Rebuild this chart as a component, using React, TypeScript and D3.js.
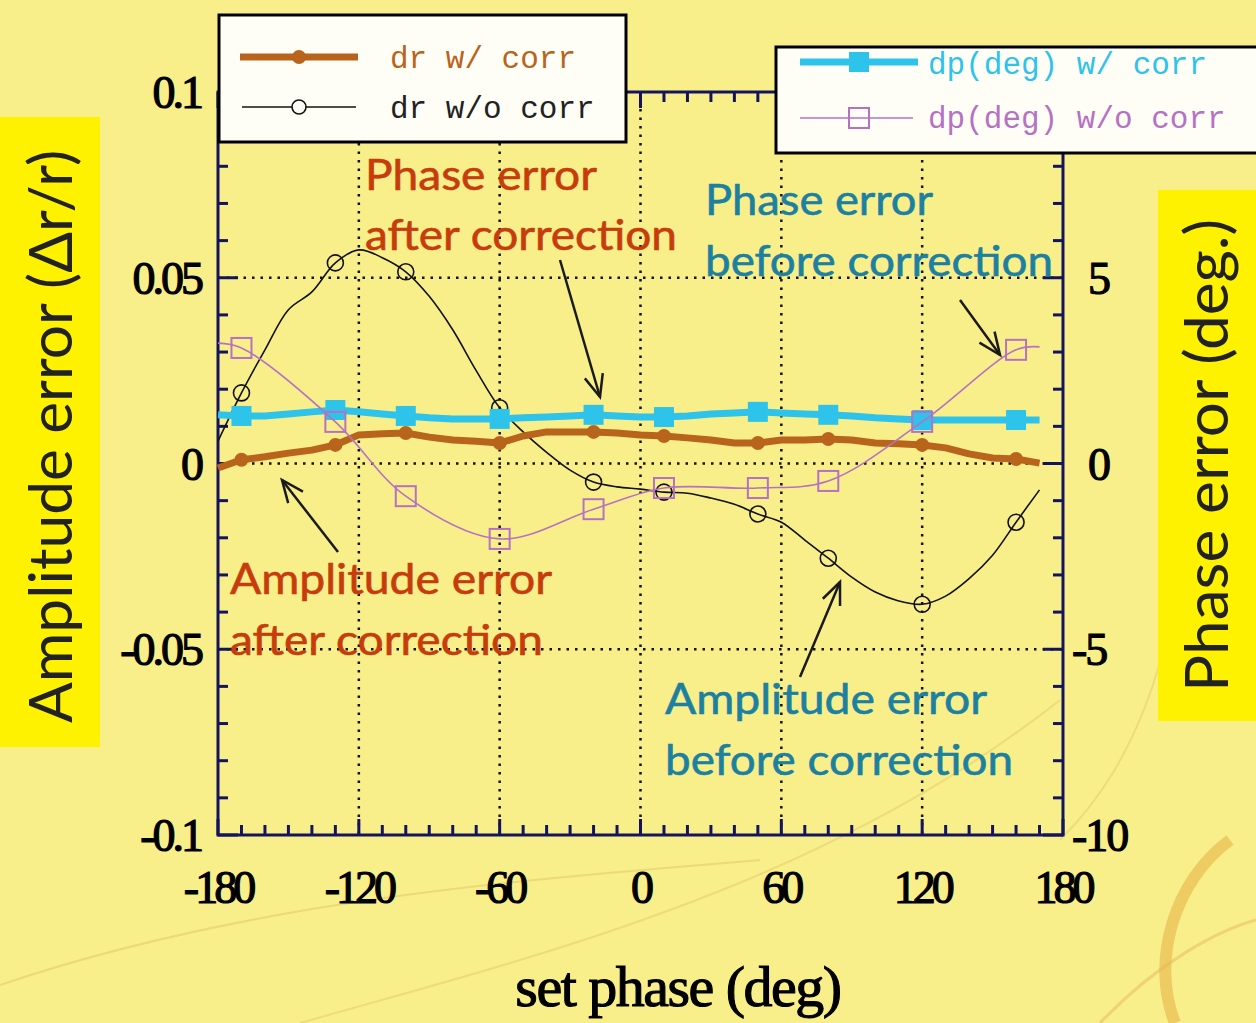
import React, { useEffect, useRef } from 'react';
import * as d3 from 'd3';

// set phase (deg), sampled every 10 deg
const phases = [-180, -170, -160, -150, -140, -130, -120, -110, -100, -90, -80, -70, -60, -50, -40, -30, -20, -10,
  0, 10, 20, 30, 40, 50, 60, 70, 80, 90, 100, 110, 120, 130, 140, 150, 160, 170];

// phases where markers are drawn
const markerPhases = [-170, -130, -100, -60, -20, 10, 50, 80, 120, 160];

// dr w/ corr (amplitude, left axis)
const drWithCorr = [-0.0012, 0.001, 0.0018, 0.0028, 0.0036, 0.005, 0.0077, 0.008, 0.0082, 0.0071, 0.0063, 0.006,
  0.0055, 0.0074, 0.0085, 0.0085, 0.0085, 0.0082, 0.0077, 0.0074, 0.0069, 0.0063, 0.0055, 0.0055, 0.0063, 0.0063,
  0.0066, 0.0063, 0.0055, 0.0053, 0.005, 0.0042, 0.0026, 0.0015, 0.0012, 0.0001];

// dr w/o corr (amplitude, left axis)
const drWithoutCorr = [0.006, 0.019, 0.0306, 0.0414, 0.0462, 0.054, 0.0575, 0.0554, 0.0516, 0.045, 0.036, 0.025,
  0.015, 0.0085, 0.003, -0.0018, -0.005, -0.0063, -0.0069, -0.0077, -0.008, -0.0093, -0.011, -0.0136, -0.0158,
  -0.0206, -0.0255, -0.0306, -0.0346, -0.037, -0.0379, -0.0357, -0.031, -0.0247, -0.0158, -0.0071];

// dp(deg) w/ corr (phase, right axis)
const dpWithCorr = [1.31, 1.28, 1.28, 1.33, 1.39, 1.44, 1.39, 1.33, 1.28, 1.23, 1.2, 1.2, 1.2, 1.23, 1.25, 1.28,
  1.31, 1.28, 1.25, 1.25, 1.28, 1.33, 1.36, 1.39, 1.36, 1.33, 1.31, 1.28, 1.23, 1.2, 1.17, 1.17, 1.17, 1.17, 1.17, 1.17];

// dp(deg) w/o corr (phase, right axis), only known at these phases
const dpWithoutPhases = [-180, -170, -130, -100, -60, -20, 10, 50, 80, 120, 160, 170];
const dpWithoutCorr = [3.24, 3.11, 1.12, -0.88, -2.03, -1.23, -0.66, -0.66, -0.47, 1.12, 3.06, 3.14];

const xTicks = [-180, -120, -60, 0, 60, 120, 180];
const leftTicks = [-0.1, -0.05, 0, 0.05, 0.1];
const rightTicks = [-10, -5, 0, 5];

const BG = '#f9ef8a';
const BROWN = '#b8641c';
const CYAN = '#2ec3ea';
const PURPLE = '#b572c4';
const FRAME = '#14145e';
const RED = '#c63c0c';
const TEAL = '#1c80a0';

function App() {
  const ref = useRef<SVGSVGElement>(null);

  useEffect(() => {
    const svg = d3.select(ref.current);
    svg.selectAll('*').remove();

    const x = d3.scaleLinear().domain([-180, 180]).range([218, 1063]);
    const yL = d3.scaleLinear().domain([-0.1, 0.1]).range([835, 92]);
    const yR = d3.scaleLinear().domain([-10, 10]).range([835, 92]);

    // background
    svg.append('rect').attr('width', 1256).attr('height', 1023).attr('fill', BG);

    // decorative swirls
    const deco = svg.append('g').attr('fill', 'none');
    deco.append('path').attr('d', 'M1175,1023 C1150,960 1175,880 1230,840')
      .attr('stroke', '#e6a83c').attr('stroke-width', 12).attr('opacity', 0.5);
    deco.append('path').attr('d', 'M0,985 C250,900 520,880 760,860')
      .attr('stroke', '#e2c96a').attr('stroke-width', 2).attr('opacity', 0.6);
    deco.append('path').attr('d', 'M300,1023 C520,960 820,890 1060,700')
      .attr('stroke', '#e2c96a').attr('stroke-width', 2).attr('opacity', 0.5);
    deco.append('path').attr('d', 'M1060,840 C1140,760 1180,650 1200,420')
      .attr('stroke', '#e2c96a').attr('stroke-width', 2).attr('opacity', 0.5);
    deco.append('path').attr('d', 'M1100,1023 C1160,960 1220,930 1256,920')
      .attr('stroke', '#e6b860').attr('stroke-width', 3).attr('opacity', 0.5);

    // axis title boxes
    svg.append('rect').attr('x', 0).attr('y', 117).attr('width', 100).attr('height', 630).attr('fill', '#fff200');
    svg.append('rect').attr('x', 1158).attr('y', 190).attr('width', 98).attr('height', 531).attr('fill', '#fff200');

    svg.append('text')
      .attr('transform', 'translate(72,723) rotate(-90)')
      .attr('font-family', 'Lato, sans-serif').attr('font-size', 60).attr('fill', '#222')
      .attr('textLength', 573).attr('lengthAdjust', 'spacingAndGlyphs')
      .text('Amplitude error (\u0394r/r)');
    svg.append('text')
      .attr('transform', 'translate(1228,692) rotate(-90)')
      .attr('font-family', 'Lato, sans-serif').attr('font-size', 60).attr('fill', '#222')
      .attr('textLength', 473).attr('lengthAdjust', 'spacingAndGlyphs')
      .text('Phase error (deg.)');

    // grid
    const grid = svg.append('g').attr('stroke', '#111').attr('stroke-width', 2.5).attr('stroke-dasharray', '2.5,6');
    xTicks.filter(d => d > -180 && d < 180).forEach(d => {
      grid.append('line').attr('x1', x(d)).attr('x2', x(d)).attr('y1', 92).attr('y2', 835);
    });
    [-0.05, 0, 0.05].forEach(d => {
      grid.append('line').attr('x1', 218).attr('x2', 1063).attr('y1', yL(d)).attr('y2', yL(d));
    });

    // ticks (inward) on all four sides
    const ticks = svg.append('g').attr('stroke', FRAME).attr('stroke-width', 3);
    d3.range(-100, 101, 10).forEach(i => {
      const v = i / 1000;
      const major = i % 50 === 0;
      const len = major ? 20 : 10;
      ticks.append('line').attr('x1', 218).attr('x2', 218 + len).attr('y1', yL(v)).attr('y2', yL(v));
      ticks.append('line').attr('x1', 1063).attr('x2', 1063 - len).attr('y1', yL(v)).attr('y2', yL(v));
    });
    d3.range(-180, 181, 10).forEach(d => {
      const major = d % 60 === 0;
      const len = major ? 16 : 10;
      ticks.append('line').attr('x1', x(d)).attr('x2', x(d)).attr('y1', 835).attr('y2', 835 - len);
      ticks.append('line').attr('x1', x(d)).attr('x2', x(d)).attr('y1', 92).attr('y2', 92 + len);
    });

    // frame
    svg.append('rect').attr('x', 218).attr('y', 92).attr('width', 845).attr('height', 743)
      .attr('fill', 'none').attr('stroke', FRAME).attr('stroke-width', 3);

    // tick labels
    const tickFont = { family: '"Liberation Serif", "Times New Roman", serif', size: 46 };
    svg.append('g').selectAll('text').data(leftTicks).join('text')
      .attr('x', 201).attr('y', d => yL(d) + 16)
      .attr('text-anchor', 'end')
      .attr('font-family', tickFont.family).attr('font-size', tickFont.size)
      .attr('letter-spacing', -3).attr('stroke', '#000').attr('stroke-width', 1.2)
      .text(d => String(d));
    svg.append('g').selectAll('text').data(rightTicks).join('text')
      .attr('x', d => d < 0 ? 1072 : 1088).attr('y', d => yR(d) + 16)
      .attr('font-family', tickFont.family).attr('font-size', tickFont.size)
      .attr('letter-spacing', -2).attr('stroke', '#000').attr('stroke-width', 1.2)
      .text(d => String(d));
    svg.append('g').selectAll('text').data(xTicks).join('text')
      .attr('x', d => x(d)).attr('y', 903)
      .attr('text-anchor', 'middle')
      .attr('font-family', tickFont.family).attr('font-size', tickFont.size)
      .attr('letter-spacing', -4).attr('stroke', '#000').attr('stroke-width', 1.2)
      .text(d => String(d));

    svg.append('text').attr('x', 678).attr('y', 1006).attr('text-anchor', 'middle')
      .attr('font-family', tickFont.family).attr('font-size', 58)
      .attr('letter-spacing', -1.5).attr('stroke', '#000').attr('stroke-width', 1.1)
      .text('set phase (deg)');

    // series
    const lineL = d3.line<number>().x((_, i) => x(phases[i])).y(d => yL(d));
    const lineR = d3.line<number>().x((_, i) => x(phases[i])).y(d => yR(d));
    const smoothL = d3.line<number>().curve(d3.curveCatmullRom).x((_, i) => x(phases[i])).y(d => yL(d));
    const purpleLine = d3.line<number>().curve(d3.curveCatmullRom)
      .x((_, i) => x(dpWithoutPhases[i])).y(d => yR(d));

    const idx = (p: number) => phases.indexOf(p);

    // dr w/o corr
    svg.append('path').attr('d', smoothL(drWithoutCorr)).attr('fill', 'none')
      .attr('stroke', '#111').attr('stroke-width', 1.6);
    svg.append('g').selectAll('circle').data(markerPhases).join('circle')
      .attr('cx', d => x(d)).attr('cy', d => yL(drWithoutCorr[idx(d)])).attr('r', 8)
      .attr('fill', 'none').attr('stroke', '#111').attr('stroke-width', 1.6);

    // dr w/ corr
    svg.append('path').attr('d', lineL(drWithCorr)).attr('fill', 'none')
      .attr('stroke', BROWN).attr('stroke-width', 7).attr('stroke-linejoin', 'round');
    svg.append('g').selectAll('circle').data(markerPhases).join('circle')
      .attr('cx', d => x(d)).attr('cy', d => yL(drWithCorr[idx(d)])).attr('r', 7)
      .attr('fill', BROWN);

    // dp w/ corr
    svg.append('path').attr('d', lineR(dpWithCorr)).attr('fill', 'none')
      .attr('stroke', CYAN).attr('stroke-width', 7).attr('stroke-linejoin', 'round');
    svg.append('g').selectAll('rect').data(markerPhases).join('rect')
      .attr('x', d => x(d) - 10).attr('y', d => yR(dpWithCorr[idx(d)]) - 10)
      .attr('width', 20).attr('height', 20).attr('fill', CYAN);

    // dp w/o corr
    svg.append('path').attr('d', purpleLine(dpWithoutCorr)).attr('fill', 'none')
      .attr('stroke', PURPLE).attr('stroke-width', 1.6);
    svg.append('g').selectAll('rect').data(markerPhases).join('rect')
      .attr('x', d => x(d) - 10).attr('y', d => yR(dpWithoutCorr[dpWithoutPhases.indexOf(d)]) - 10)
      .attr('width', 20).attr('height', 20).attr('fill', 'none')
      .attr('stroke', PURPLE).attr('stroke-width', 2);

    // annotations
    const notes = [
      { t: 'Phase error', x: 365, y: 190, w: 232, c: RED },
      { t: 'after correction', x: 365, y: 250, w: 312, c: RED },
      { t: 'Phase error', x: 705, y: 215, w: 228, c: TEAL },
      { t: 'before correction', x: 705, y: 276, w: 348, c: TEAL },
      { t: 'Amplitude error', x: 230, y: 594, w: 322, c: RED },
      { t: 'after correction', x: 230, y: 655, w: 313, c: RED },
      { t: 'Amplitude error', x: 665, y: 714, w: 322, c: TEAL },
      { t: 'before correction', x: 665, y: 775, w: 348, c: TEAL },
    ];
    svg.append('g').selectAll('text').data(notes).join('text')
      .attr('x', d => d.x).attr('y', d => d.y).attr('fill', d => d.c)
      .attr('stroke', d => d.c).attr('stroke-width', 0.6)
      .attr('font-family', 'Lato, sans-serif').attr('font-size', 42)
      .attr('textLength', d => d.w).attr('lengthAdjust', 'spacingAndGlyphs')
      .text(d => d.t);

    const arrows = [
      [560, 260, 600, 397],
      [960, 300, 1000, 355],
      [338, 552, 282, 480],
      [800, 677, 840, 582],
    ];
    const arrowG = svg.append('g').attr('stroke', '#1a1a1a').attr('stroke-width', 2.5).attr('fill', 'none');
    arrows.forEach(([x1, y1, x2, y2]) => {
      const a = Math.atan2(y2 - y1, x2 - x1);
      const h = 24;
      const p1 = [x2 - h * Math.cos(a - 0.4), y2 - h * Math.sin(a - 0.4)];
      const p2 = [x2 - h * Math.cos(a + 0.4), y2 - h * Math.sin(a + 0.4)];
      arrowG.append('line').attr('x1', x1).attr('y1', y1).attr('x2', x2).attr('y2', y2);
      arrowG.append('path').attr('d', `M${p1[0]},${p1[1]} L${x2},${y2} L${p2[0]},${p2[1]}`);
    });

    // legends
    const monoFont = '"Liberation Mono", "DejaVu Sans Mono", monospace';
    const leg1 = svg.append('g');
    leg1.append('rect').attr('x', 219).attr('y', 15).attr('width', 407).attr('height', 127)
      .attr('fill', '#fffef6').attr('stroke', '#000').attr('stroke-width', 3);
    leg1.append('line').attr('x1', 240).attr('x2', 358).attr('y1', 57).attr('y2', 57)
      .attr('stroke', BROWN).attr('stroke-width', 7);
    leg1.append('circle').attr('cx', 299).attr('cy', 57).attr('r', 7).attr('fill', BROWN);
    leg1.append('line').attr('x1', 242).attr('x2', 356).attr('y1', 107).attr('y2', 107)
      .attr('stroke', '#111').attr('stroke-width', 1.6);
    leg1.append('circle').attr('cx', 299).attr('cy', 107).attr('r', 7).attr('fill', '#fffef6')
      .attr('stroke', '#111').attr('stroke-width', 1.6);
    leg1.append('text').attr('x', 390).attr('y', 68).attr('fill', BROWN)
      .attr('font-family', monoFont).attr('font-size', 31).text('dr w/ corr');
    leg1.append('text').attr('x', 390).attr('y', 118).attr('fill', '#222')
      .attr('font-family', monoFont).attr('font-size', 31).text('dr w/o corr');

    const leg2 = svg.append('g');
    leg2.append('rect').attr('x', 776).attr('y', 47).attr('width', 490).attr('height', 106)
      .attr('fill', '#fffef6').attr('stroke', '#000').attr('stroke-width', 3);
    leg2.append('line').attr('x1', 800).attr('x2', 918).attr('y1', 62).attr('y2', 62)
      .attr('stroke', CYAN).attr('stroke-width', 7);
    leg2.append('rect').attr('x', 849).attr('y', 52).attr('width', 20).attr('height', 20).attr('fill', CYAN);
    leg2.append('line').attr('x1', 800).attr('x2', 913).attr('y1', 118).attr('y2', 118)
      .attr('stroke', PURPLE).attr('stroke-width', 1.6);
    leg2.append('rect').attr('x', 849).attr('y', 108).attr('width', 20).attr('height', 20)
      .attr('fill', 'none').attr('stroke', PURPLE).attr('stroke-width', 2);
    leg2.append('text').attr('x', 928).attr('y', 74).attr('fill', CYAN)
      .attr('font-family', monoFont).attr('font-size', 31).text('dp(deg) w/ corr');
    leg2.append('text').attr('x', 928).attr('y', 128).attr('fill', PURPLE)
      .attr('font-family', monoFont).attr('font-size', 31).text('dp(deg) w/o corr');
  }, []);

  return (
    <svg ref={ref} width={1256} height={1023}
      style={{ display: 'block', position: 'absolute', left: 0, top: 0 }} />
  );
}

export default App;
